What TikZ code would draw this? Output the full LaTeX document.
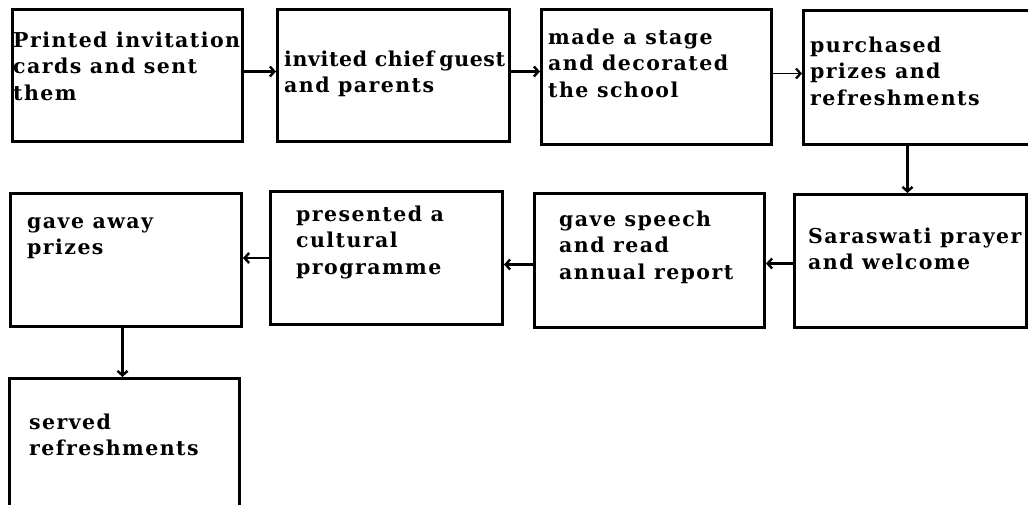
\documentclass[tikz,border=0pt]{standalone}
\usepackage{fontspec}
\setmainfont{DejaVu Serif}[LetterSpace=7]
\usetikzlibrary{arrows.meta}
\begin{document}
\begin{tikzpicture}[x=1pt,y=-1pt,
  box/.style={draw, line width=3pt, rectangle, inner sep=0pt, anchor=north west},
  txt/.style={inner sep=0pt, anchor=north west, align=left,
    font=\fontsize{20.5}{26.5}\selectfont\bfseries},
  arr/.style={line width=2.2pt, -{Straight Barb[length=4.5pt,width=10pt,line width=2.4pt]}},
  thinarr/.style={line width=1.3pt, -{Straight Barb[length=4.5pt,width=10pt,line width=2.2pt]}}]
\useasboundingbox (0,0) rectangle (1028,504);
\clip (0,0) rectangle (1028,504);
% boxes (left, top, width, height)
\node[box, minimum width=230pt, minimum height=132pt] (b1) at (11,8) {};
\node[box, minimum width=232pt, minimum height=132pt] (b2) at (276,8) {};
\node[box, minimum width=230pt, minimum height=135pt] (b3) at (540,8) {};
\node[box, minimum width=240pt, minimum height=134pt] (b4) at (802,9) {};
\node[box, minimum width=232pt, minimum height=133pt] (b8) at (793,193) {};
\node[box, minimum width=230pt, minimum height=134pt] (b7) at (533,192) {};
\node[box, minimum width=232pt, minimum height=133pt] (b6) at (269,190) {};
\node[box, minimum width=231pt, minimum height=133pt] (b5) at (9,192) {};
\node[box, minimum width=230pt, minimum height=150pt] (b9) at (8,377) {};
% texts (x, baseline - 18.55)
\node[txt] (t1) at (13,28.5) {\strut Printed invitation\\cards and sent\\them};
\node[txt] (t2) at (284,47.5) {\addfontfeatures{LetterSpace=3}\strut invited chief\hspace{5pt}guest\\and parents};
\node[txt] (t3) at (548,25.5) {\strut made a stage\\and decorated\\the school};
\node[txt] (t4) at (810,33.5) {\strut purchased\\prizes and\\refreshments};
\node[txt] (t8) at (808,224.5) {\strut Saraswati prayer\\and welcome};
\node[txt] (t7) at (559,207.5) {\strut gave speech\\and read\\annual report};
\node[txt] (t6) at (296,202.5) {\strut presented a\\cultural\\programme};
\node[txt] (t5) at (27,209.5) {\strut gave away\\prizes};
\node[txt] (t9) at (29,410.5) {\strut served\\refreshments};
% connectors
\draw[arr] ([yshift=4pt]b1.east) -- ([yshift=4pt]b1.east -| b2.west);
\draw[arr] ([yshift=4pt]b2.east) -- ([yshift=4pt]b2.east -| b3.west);
\draw[thinarr] ([yshift=3.5pt]b3.east) -- ([yshift=3.5pt]b3.east -| b4.west);
\draw[arr] ([xshift=-3pt]b8.north |- b4.south) -- ([xshift=-3pt]b8.north);
\draw[arr] ([yshift=-2.5pt]b8.west) -- ([yshift=-2.5pt]b8.west -| b7.east);
\draw[arr] ([yshift=-4pt]b7.west) -- ([yshift=-4pt]b7.west -| b6.east);
\draw[arr] (b6.west) -- (b6.west -| b5.east);
\draw[arr] ([xshift=-3.5pt]b5.south) -- ([xshift=-3.5pt]b5.south |- b9.north);
\end{tikzpicture}
\end{document}
